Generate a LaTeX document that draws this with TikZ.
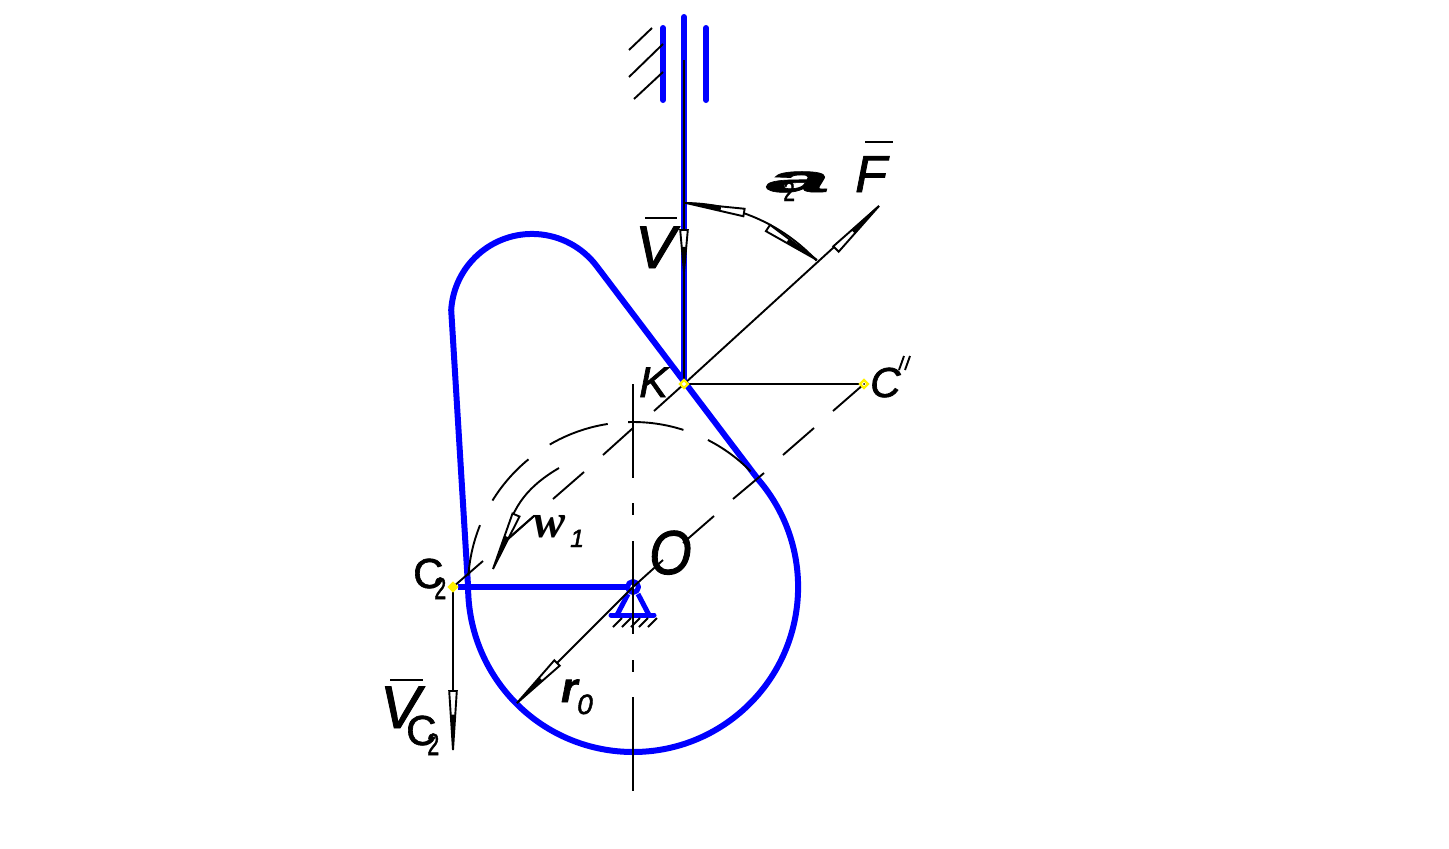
\documentclass[tikz,border=0pt]{standalone}
\usepackage{fontspec}
\usetikzlibrary{calc}
\newfontfamily\cadfont[FakeBold=1.6]{Liberation Sans}
\newfontfamily\cadserif{Liberation Serif}
\newcommand{\labsize}[1]{\fontsize{#1}{#1}\selectfont}
\newcommand{\headarrow}[2]{
    \draw[thinline,fill=white] (#1) -- ($(#2)!3.8pt!90:(#1)$) -- ($(#2)!3.8pt!-90:(#1)$) -- cycle;
    \coordinate (mid) at ($(#1)!0.6!(#2)$);
    \fill (#1) -- ($(mid)!2.5pt!90:(#1)$) -- ($(mid)!2.5pt!-90:(#1)$) -- cycle;
}
\definecolor{camblue}{RGB}{0,0,255}
\tikzset{
    camline/.style={draw=camblue, line width=6pt, line cap=round, line join=round},
    thinline/.style={draw=black, line width=1.9pt},
    pointmark/.style={draw=yellow, line width=2.4pt, fill=#1},
    lab/.style={inner sep=0pt, anchor=base west, font=\cadfont\itshape},
}
\begin{document}
\begin{tikzpicture}[x=1pt,y=-1pt]
    \useasboundingbox (0,0) rectangle (1449,849);
    \coordinate (O) at (633,587);
    \coordinate (K) at (684,384);
    \coordinate (C2) at (453,587);
    \coordinate (Cpp) at (864,384);
    % cam profile
    \draw[camline] (758,479.2) arc[start angle=-40.8, end angle=180, radius=165]
        -- (451.2,310) arc[start angle=-176.5, end angle=-37, radius=81] -- cycle;
    % follower and guides
    \draw[camline] (684,17) -- (K);
    \draw[camline] (663,28) -- (663,100);
    \draw[camline] (706,28) -- (706,100);
    \draw[thinline] (684,60) -- (K);
    \draw[thinline] (629,50) -- (652,28);
    \draw[thinline] (629,77) -- (663,44);
    \draw[thinline] (634,99) -- (663,72);
    % link and pivot
    \draw[camline, line cap=butt] (458,587) -- (O);
    \draw[camline, line width=5pt, fill=white] (O) circle (5.5);
    \draw[camline, line width=5pt, line cap=butt] (628,594) -- (617,615);
    \draw[camline, line width=5pt, line cap=butt] (638,594) -- (649,615);
    \draw[camline, line width=5pt] (611,615) -- (654,615);
    \foreach \x in {613,622,631,639,648}
        \draw[thinline] (\x,627) -- (\x+9,618);
    % centre line
    \draw[thinline] (633,384) -- (633,478);
    \draw[thinline] (633,503) -- (633,515);
    \draw[thinline] (633,541) -- (633,634);
    \draw[thinline] (633,660) -- (633,672);
    \draw[thinline] (633,697) -- (633,791);
    % base circle, dashed by hand
    \foreach \a/\b in {-176/-158,-148.4/-129.3,-120.3/-98.8,-91.7/-72.2,-63/-44.5}
        \draw[thinline] ($(O)+(\a:165)$) arc[start angle=\a, end angle=\b, radius=165];
    % line through C2 and K
    \draw[thinline] (C2) -- (483,561);
    \draw[thinline] (503,543) -- (534,516);
    \draw[thinline] (553,499) -- (584,472);
    \draw[thinline] (603,455) -- (633,428);
    \draw[thinline] (654,411) -- (K);
    % line through O and C''
    \draw[thinline] (O) -- (663,560);
    \draw[thinline] (683,543) -- (714,516);
    \draw[thinline] (733,499) -- (764,473);
    \draw[thinline] (783,455) -- (814,428);
    \draw[thinline] (833,411) -- (Cpp);
    % vectors
    \draw[thinline] (K) -- (Cpp);
    \draw[thinline] (K) -- (879,206);
    \draw[thinline] (C2) -- (453,750);
    \draw[thinline] (O) -- (517,703);
    \draw[thinline] (K) ++(-90:181) arc[start angle=-90, end angle=-43, radius=181];
    \draw[thinline] (559,468) .. controls (530,485) and (512,505) .. (505,540);
    \headarrow{686,203}{744,212.5}
    \headarrow{817,260}{768,228}
    \headarrow{879,206}{836,249}
    \headarrow{684,272}{684,230}
    \headarrow{453,750}{453,691}
    \headarrow{517,703}{557,663}
    \headarrow{493,569}{516,515}
    \draw[thinline] (507,540) -- (534,516);
    % points
    \draw[pointmark=white] (680,384) -- (684,380) -- (688,384) -- (684,388) -- cycle;
    \draw[pointmark=white] (860,384) -- (864,380) -- (868,384) -- (864,388) -- cycle;
    \draw[pointmark=yellow] (449,587) -- (453,583) -- (457,587) -- (453,591) -- cycle;
    \fill (864,384) circle (1);
    % labels
    \node[lab, font=\cadfont\itshape\labsize{52}] (labF) at (855,192) {F};
    \draw[thinline, line width=2.5pt] (865,142) -- (893,142);
    \node[lab, font=\cadfont\bfseries\itshape\labsize{38}] (laba) at (766,192) {\scalebox{3}[1]{a}};
    \node[lab, font=\cadfont\labsize{28}] (laba2) at (783,201) {\scalebox{.75}[1]{2}};
    \node[lab, font=\cadfont\itshape\labsize{60}] (labV) at (635,268) {V};
    \draw[thinline, line width=2.5pt] (645,218) -- (677,218);
    \node[lab, font=\cadfont\itshape\labsize{43}] (labK) at (639,397) {K};
    \node[lab, font=\cadfont\itshape\labsize{42}] (labC) at (870,397) {C};
    \draw[thinline] (899,370) -- (904,356);
    \draw[thinline] (905,370) -- (910,356);
    \node[lab, font=\cadfont\itshape\labsize{62}] (labO) at (649,574) {\scalebox{.88}[1]{O}};
    \node[lab, font=\cadserif\bfseries\itshape\labsize{48}] (labw) at (533,537) {w};
    \node[lab, font=\cadfont\itshape\labsize{25}] (labw1) at (570,547) {1};
    \node[lab, font=\cadfont\labsize{42}] (labC2) at (413,588) {C};
    \node[lab, font=\cadfont\labsize{31}] (labC2i) at (434,599) {\scalebox{.7}[1]{2}};
    \node[lab, font=\cadfont\itshape\labsize{60}] (labVc) at (380,728) {V};
    \draw[thinline, line width=2.5pt] (390,680) -- (423,680);
    \node[lab, font=\cadfont\labsize{42}] (labVcC) at (406,745) {C};
    \node[lab, font=\cadfont\labsize{31}] (labVc2) at (427,755) {\scalebox{.7}[1]{2}};
    \node[lab, font=\cadfont\bfseries\itshape\labsize{42}] (labr) at (561,702) {r};
    \node[lab, font=\cadfont\itshape\labsize{28}] (labr0) at (577,714) {0};
\end{tikzpicture}
\end{document}
